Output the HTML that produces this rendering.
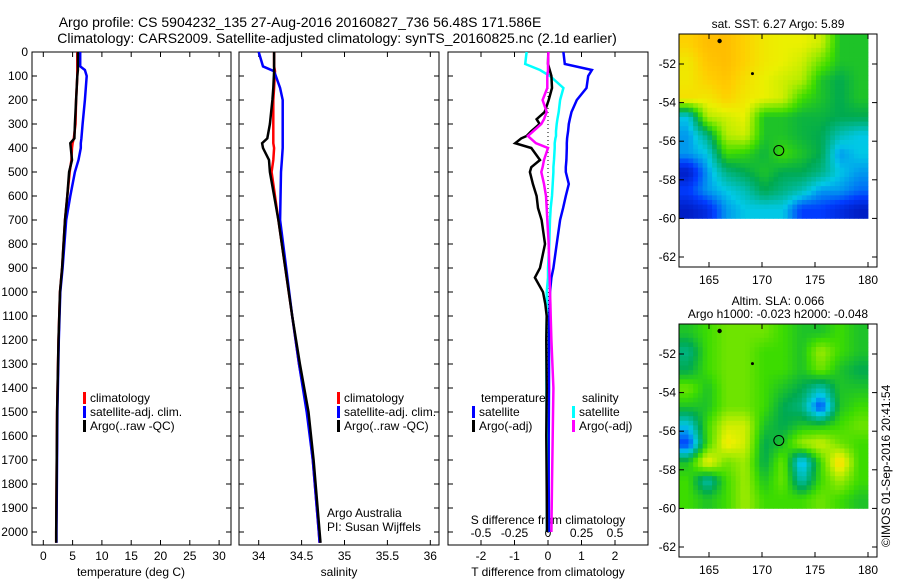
<!DOCTYPE html>
<html><head><meta charset="utf-8"><style>
body{margin:0;background:#fff;}
svg{display:block;font-family:"Liberation Sans",sans-serif;}
text{font-size:12px;fill:#000;}
</style></head><body>
<svg id="c" width="900" height="580" viewBox="0 0 900 580">
<text x="300" y="27" text-anchor="middle" style="font-size:14px">Argo profile: CS 5904232_135 27-Aug-2016 20160827_736 56.48S 171.586E</text>
<text x="337" y="43" text-anchor="middle" style="font-size:14px">Climatology: CARS2009. Satellite-adjusted climatology: synTS_20160825.nc (2.1d earlier)</text>
</svg>
<script>
// ---- data ----
const depthTicks=[0,100,200,300,400,500,600,700,800,900,1000,1100,1200,1300,1400,1500,1600,1700,1800,1900,2000];
const tTicks=[0,5,10,15,20,25,30];
const sTicks=[34,34.5,35,35.5,36];
const tdTicks=[-2,-1,0,1,2];
const sdTicks=[-0.5,-0.25,0,0.25,0.5];
const tempDepth=[0,60,75,100,200,300,360,380,400,450,500,600,700,900,1000,1200,1500,2000,2045];
const tempArgo=[5.9,5.9,5.9,5.8,5.6,5.4,5.3,4.6,4.7,4.9,4.4,4.1,3.7,3.2,2.85,2.6,2.35,2.2,2.2];
const tempClim=[5.8,5.8,5.8,5.8,5.6,5.5,5.2,5.0,4.9,4.8,4.5,4.1,3.7,3.2,2.85,2.6,2.35,2.2,2.2];
const tempSat=[6.3,6.3,7.1,7.4,7.1,6.7,6.5,6.4,6.4,6.0,5.4,4.6,3.9,3.3,2.9,2.65,2.4,2.25,2.25];
const salDepth=[0,60,80,150,200,300,360,380,400,450,500,700,900,1100,1300,1500,1700,2000,2045];
const salArgo=[34.18,34.18,34.18,34.17,34.16,34.13,34.10,34.04,34.05,34.12,34.13,34.23,34.31,34.39,34.48,34.58,34.64,34.71,34.72];
const salClim=[34.18,34.18,34.19,34.18,34.17,34.17,34.17,34.17,34.18,34.17,34.15,34.23,34.31,34.39,34.47,34.57,34.63,34.70,34.71];
const salSat=[34.0,34.05,34.18,34.25,34.28,34.28,34.28,34.28,34.28,34.27,34.26,34.25,34.32,34.39,34.47,34.56,34.63,34.70,34.71];
const dDepth=[0,50,75,100,150,200,250,280,300,330,350,360,380,400,450,480,500,550,600,650,700,800,900,940,1000,1050,1100,1200,1400,1600,1800,2000];
const dTSat=[0.46,0.5,1.31,1.2,1.15,0.86,0.7,0.65,0.62,0.6,0.58,0.57,0.56,0.56,0.55,0.53,0.53,0.62,0.53,0.45,0.36,0.26,0.16,0.1,0.06,0.05,0.04,0.03,0.03,0.02,0.02,0.03];
const dTArgo=[0.01,0.0,0.05,0.1,0.12,0.02,-0.1,-0.34,-0.25,-0.5,-0.64,-0.8,-0.98,-0.5,-0.24,-0.5,-0.54,-0.45,-0.34,-0.3,-0.19,-0.09,-0.24,-0.39,-0.15,-0.08,-0.04,-0.05,-0.04,-0.05,-0.04,-0.03];
const dSSat=[-0.16,-0.17,-0.06,0.015,0.115,0.09,0.08,0.07,0.065,0.06,0.06,0.055,0.05,0.05,0.045,0.04,0.04,0.035,0.03,0.02,0.015,0.01,0.0,0.0,-0.01,-0.01,-0.01,-0.012,-0.012,-0.01,-0.01,-0.008];
const dSArgo=[0.003,0.0,0.0,-0.005,-0.005,-0.04,-0.01,-0.03,-0.05,-0.11,-0.15,-0.13,-0.09,0.0,-0.03,-0.04,-0.05,-0.03,-0.015,-0.01,-0.005,0.005,0.01,0.012,0.015,0.018,0.02,0.025,0.04,0.035,0.03,0.025];
const latTicks=[-52,-54,-56,-58,-60,-62];
const lonTicks=[165,170,175,180];
const sstGrid=[
[0.85,0.9,0.9,0.85,0.8,0.78,0.78,0.75,0.55,0.55],
[0.8,0.88,0.9,0.85,0.8,0.78,0.75,0.65,0.55,0.55],
[0.8,0.85,0.88,0.82,0.78,0.75,0.72,0.55,0.5,0.55],
[0.82,0.8,0.85,0.8,0.78,0.75,0.6,0.55,0.5,0.55],
[0.35,0.72,0.75,0.78,0.55,0.55,0.52,0.52,0.5,0.5],
[0.3,0.45,0.72,0.75,0.55,0.55,0.52,0.5,0.4,0.35],
[0.3,0.35,0.6,0.58,0.52,0.6,0.55,0.5,0.3,0.35],
[0.1,0.3,0.45,0.5,0.55,0.5,0.5,0.45,0.35,0.3],
[0.2,0.3,0.35,0.4,0.5,0.45,0.4,0.3,0.3,0.25],
[0.1,0.15,0.3,0.35,0.35,0.35,0.2,0.2,0.15,0.1]];
const slaGrid=[
[0.55,0.6,0.65,0.65,0.65,0.6,0.55,0.55,0.6,0.55],
[0.45,0.6,0.65,0.65,0.6,0.6,0.55,0.7,0.6,0.55],
[0.5,0.6,0.65,0.65,0.6,0.6,0.55,0.65,0.55,0.5],
[0.65,0.55,0.65,0.65,0.6,0.55,0.5,0.4,0.55,0.55],
[0.55,0.55,0.65,0.65,0.6,0.5,0.45,0.2,0.55,0.6],
[0.35,0.6,0.75,0.75,0.55,0.5,0.55,0.55,0.6,0.65],
[0.2,0.6,0.8,0.75,0.5,0.55,0.7,0.75,0.65,0.6],
[0.55,0.8,0.65,0.7,0.5,0.65,0.3,0.6,0.85,0.6],
[0.6,0.4,0.6,0.7,0.55,0.65,0.4,0.6,0.7,0.6],
[0.6,0.55,0.6,0.7,0.6,0.6,0.6,0.65,0.6,0.55]];
const profLon=[171.586], profLat=[-56.48];

// ---- drawing ----
const svg=document.getElementById('c');
const NS='http://www.w3.org/2000/svg';
function mk(tag,attrs,parent){const e=document.createElementNS(NS,tag);for(const k in attrs)e.setAttribute(k,attrs[k]);(parent||svg).appendChild(e);return e;}
function txt(x,y,s,anchor,name){const t=mk('text',{x:x,y:y,'text-anchor':anchor||'start'});t.textContent=s;


return t;}
const TOP=52,BOT=545;
const yD=d=>TOP+d*0.24;
const panels=[{l:32,r:231},{l:239,r:439},{l:448,r:648}];
const xT=v=>43.3+v*5.86;
const xS=v=>258.7+(v-34)*85.8;
const xTD=v=>548+v*33.5;
const xSD=v=>548+v*134;

panels.forEach((p,i)=>{
  const r=mk('rect',{x:p.l,y:TOP,width:p.r-p.l,height:BOT-TOP,fill:'none',stroke:'#000','stroke-width':1});
  
  
  depthTicks.forEach(d=>{mk('line',{x1:p.l,x2:p.l+5,y1:yD(d),y2:yD(d),stroke:'#000'});mk('line',{x1:p.r,x2:p.r-5,y1:yD(d),y2:yD(d),stroke:'#000'});});
});
depthTicks.forEach(d=>txt(28,yD(d)+4,String(d),'end','depth-tick-label'));

function xticks(ticks,fx,y){ticks.forEach(v=>{const x=fx(v);
 mk('line',{x1:x,x2:x,y1:BOT,y2:BOT-5,stroke:'#000'});mk('line',{x1:x,x2:x,y1:TOP,y2:TOP+5,stroke:'#000'});
 txt(x,y,String(v),'middle','x-tick-label');});}
xticks(tTicks,xT,560);
xticks(sTicks,xS,560);
xticks(tdTicks,xTD,560);
txt(131,576,'temperature (deg C)','middle','temperature-axis-title');
txt(339,576,'salinity','middle','salinity-axis-title');
txt(548,576,'T difference from climatology','middle','t-diff-axis-title');
sdTicks.forEach(v=>txt(xSD(v),537,String(v),'middle','s-diff-tick-label'));
txt(548,524,'S difference from climatology','middle','s-diff-axis-title');
mk('line',{x1:548,x2:548,y1:TOP,y2:BOT,stroke:'#000','stroke-dasharray':'1,3'});

function line(xs,ds,fx,color,name,w){
  const pts=xs.map((v,i)=>fx(v).toFixed(1)+','+yD(ds[i]).toFixed(1)).join(' ');
  const pl=mk('polyline',{points:pts,fill:'none',stroke:color,'stroke-width':w||2.5});
  
  
}
line(tempClim,tempDepth,xT,'#f00','temp-climatology-line');
line(tempSat,tempDepth,xT,'#00f','temp-satellite-line');
line(tempArgo,tempDepth,xT,'#000','temp-argo-line');
line(salClim,salDepth,xS,'#f00','sal-climatology-line');
line(salSat,salDepth,xS,'#00f','sal-satellite-line');
line(salArgo,salDepth,xS,'#000','sal-argo-line');
line(dTSat,dDepth,xTD,'#00f','tdiff-satellite-line');
line(dSSat,dDepth,xSD,'#0ff','sdiff-satellite-line');
line(dTArgo,dDepth,xTD,'#000','tdiff-argo-line');
line(dSArgo,dDepth,xSD,'#f0f','sdiff-argo-line');

function legItem(x,y,color,label){mk('rect',{x:x,y:y-10,width:3,height:12,fill:color});txt(x+7,y,label,'start','legend-entry');}
[83,337].forEach(x=>{legItem(x,402,'#f00','climatology');legItem(x,416,'#00f','satellite-adj. clim.');legItem(x,430,'#000','Argo(..raw -QC)');});
txt(481,402,'temperature','start','legend-heading-temperature');
legItem(472,416,'#00f','satellite');legItem(472,430,'#000','Argo(-adj)');
txt(582,402,'salinity','start','legend-heading-salinity');
legItem(572,416,'#0ff','satellite');legItem(572,430,'#f0f','Argo(-adj)');
txt(327,517,'Argo Australia','start','credit-argo-australia');
txt(327,531,'PI: Susan Wijffels','start','credit-pi');

// ---- maps ----
function cmap(v){const stops=[[0,[0,0,140]],[0.2,[0,60,255]],[0.35,[0,200,230]],[0.5,[0,170,80]],[0.6,[60,220,0]],[0.7,[160,235,0]],[0.78,[235,240,0]],[0.86,[255,205,0]],[1,[255,150,0]]];
 for(let i=1;i<stops.length;i++){if(v<=stops[i][0]){const a=stops[i-1],b=stops[i],t=(v-a[0])/(b[0]-a[0]);return 'rgb('+a[1].map((c,k)=>Math.round(c+(b[1][k]-c)*t)).join(',')+')';}}return 'rgb(255,150,0)';}
function sample(grid,u,v){ // bilinear, u,v in cell coords
  const R=grid.length,C=grid[0].length;
  const x=Math.min(Math.max(u-0.5,0),C-1),y=Math.min(Math.max(v-0.5,0),R-1);
  const x0=Math.floor(x),y0=Math.floor(y),x1=Math.min(x0+1,C-1),y1=Math.min(y0+1,R-1),fx=x-x0,fy=y-y0;
  return grid[y0][x0]*(1-fx)*(1-fy)+grid[y0][x1]*fx*(1-fy)+grid[y1][x0]*(1-fx)*fy+grid[y1][x1]*fx*fy;}
function drawMap(top,grid,name,titles){
  const L=679,R=877,B=top+233;
  const xL=lon=>709+(lon-165)*10.6;
  const yL=lat=>top+30+(-52-lat)*19.3;
  const g=mk('g',{});
  const x0=L,x1=xL(180),y0=top,y1=yL(-60);
  const N=40,cw=(x1-x0)/N,ch=(y1-y0)/N,C=grid[0].length,Rr=grid.length;
  for(let ri=0;ri<N;ri++)for(let ci=0;ci<N;ci++){
    const v=sample(grid,(ci+0.5)/N*C,(ri+0.5)/N*Rr);
    mk('rect',{x:(x0+ci*cw).toFixed(2),y:(y0+ri*ch).toFixed(2),width:(cw+0.4).toFixed(2),height:(ch+0.4).toFixed(2),fill:cmap(v)},g);}
  mk('rect',{x:L,y:top,width:R-L,height:B-top,fill:'none',stroke:'#000'},g);
  latTicks.forEach(la=>{const y=yL(la);mk('line',{x1:L,x2:L+5,y1:y,y2:y,stroke:'#000'},g);mk('line',{x1:R,x2:R-5,y1:y,y2:y,stroke:'#000'},g);txt(L-3,y+4,String(la),'end','lat-tick-label');});
  lonTicks.forEach(lo=>{const x=xL(lo);mk('line',{x1:x,x2:x,y1:B,y2:B-5,stroke:'#000'},g);mk('line',{x1:x,x2:x,y1:top,y2:top+5,stroke:'#000'},g);txt(x,B+17,String(lo),'middle','lon-tick-label');});
  const c=mk('circle',{cx:xL(profLon[0]),cy:yL(profLat[0]),r:5,fill:'none',stroke:'#000'},g);
  
  
  mk('circle',{cx:xL(166),cy:top+7,r:2.2,fill:'#000'},g);
  mk('circle',{cx:xL(169.1),cy:yL(-52.5),r:1.5,fill:'#000'},g);
  titles.forEach((t,i)=>txt(778,top-(titles.length-1-i)*13-6,t,'middle','map-title'));
}
drawMap(34,sstGrid,'sst-map',['sat. SST: 6.27 Argo: 5.89']);
drawMap(324,slaGrid,'sla-map',['Altim. SLA: 0.066','Argo h1000: -0.023 h2000: -0.048']);
const cr=txt(0,0,'\u00A9IMOS 01-Sep-2016 20:41:54','start','imos-timestamp');
cr.setAttribute('transform','translate(890,547) rotate(-90)');
</script>
</body></html>
